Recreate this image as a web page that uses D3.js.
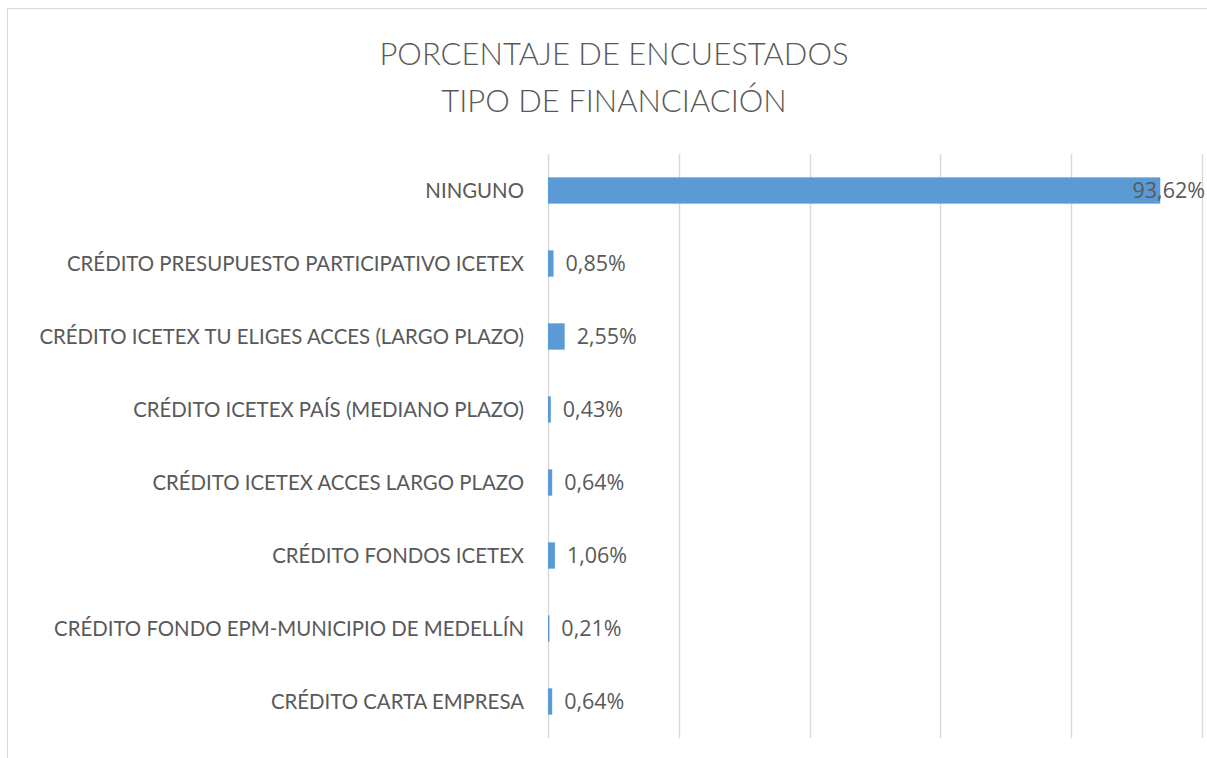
<!DOCTYPE html>
<html><head><meta charset="utf-8">
<script src="https://cdn.jsdelivr.net/npm/d3@7"></script>
<style>body{margin:0;background:#fff;}svg{display:block;}</style>
</head><body>
<svg id="c" width="1207" height="758"></svg>
<script>
const categories = ["NINGUNO","CRÉDITO PRESUPUESTO PARTICIPATIVO ICETEX","CRÉDITO ICETEX TU ELIGES ACCES (LARGO PLAZO)","CRÉDITO ICETEX PAÍS (MEDIANO PLAZO)","CRÉDITO ICETEX ACCES LARGO PLAZO","CRÉDITO FONDOS ICETEX","CRÉDITO FONDO EPM-MUNICIPIO DE MEDELLÍN","CRÉDITO CARTA EMPRESA"];
const values = [93.62,0.85,2.55,0.43,0.64,1.06,0.21,0.64];
const gridTicks = [0,20,40,60,80,100];
const titleLines = ["PORCENTAJE DE ENCUESTADOS","TIPO DE FINANCIACIÓN"];

const FONT = "Lato, 'Open Sans', sans-serif";
const VFONT = "'Open Sans', sans-serif";
const svg = d3.select("#c");
svg.append("rect").attr("x",7.5).attr("y",8.5).attr("width",1230).attr("height",780)
  .attr("fill","#fff").attr("stroke","#d9d9d9").attr("stroke-width",1);

const x = d3.scaleLinear().domain([0,100]).range([548,1202]);
const y = d3.scaleBand().domain(categories).range([154,738]).paddingInner(0.64).paddingOuter(0.32);

svg.append("g").selectAll("line").data(gridTicks).join("line")
  .attr("x1",d=>Math.round(x(d))+0.5).attr("x2",d=>Math.round(x(d))+0.5)
  .attr("y1",154).attr("y2",738).attr("stroke","#d9d9d9").attr("stroke-width",1.5);

svg.append("g").selectAll("rect").data(values).join("rect")
  .attr("x",x(0)).attr("y",(d,i)=>y(categories[i]))
  .attr("width",d=>x(d)-x(0)).attr("height",y.bandwidth()).attr("fill","#5b9bd5");

svg.append("g").selectAll("text").data(categories).join("text")
  .attr("x",524).attr("y",d=>y(d)+y.bandwidth()/2).attr("dy","0.35em")
  .attr("text-anchor","end").attr("fill","#595959")
  .style("font-family",FONT).style("font-size","20.4px").text(d=>d);

const fmt = v => v.toFixed(2).replace(".",",")+"%";
svg.append("g").selectAll("text").data(values).join("text")
  .attr("y",(d,i)=>y(categories[i])+y.bandwidth()/2).attr("dy","0.36em")
  .attr("fill","#595959").style("font-family",VFONT).style("font-size","21.5px")
  .text(fmt)
  .each(function(d){
    const w = this.getComputedTextLength();
    let px = x(d)+12;
    if (px + w > 1205) px = 1205 - w;
    d3.select(this).attr("x",px);
  });

svg.append("g").selectAll("text").data(titleLines).join("text")
  .attr("x",614).attr("y",(d,i)=>65+i*47).attr("text-anchor","middle")
  .attr("fill","#595959").style("font-family",FONT).style("font-weight","300")
  .style("font-size","31px").text(d=>d);
</script>
</body></html>
